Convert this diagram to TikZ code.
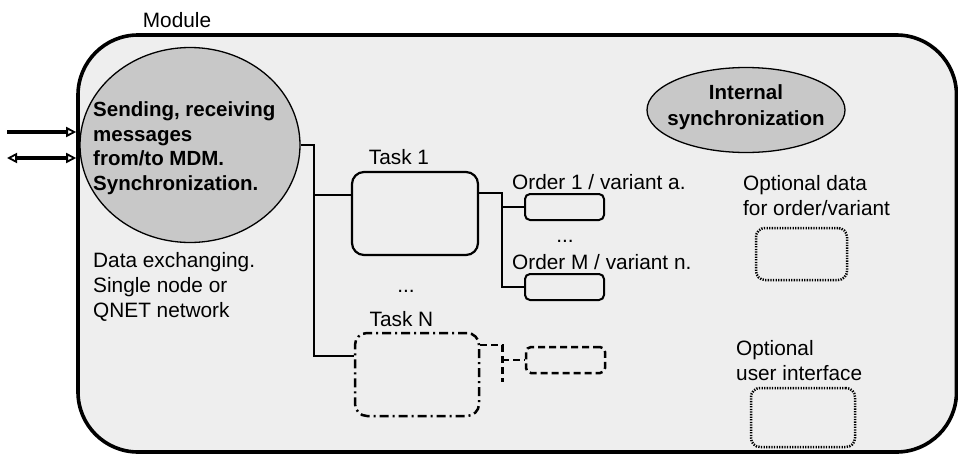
\documentclass[tikz,border=0pt]{standalone}
\usepackage{fontspec}
\setmainfont{Liberation Sans}
\usetikzlibrary{arrows.meta,calc,shapes.geometric}
\definecolor{modfill}{HTML}{EEEEEE}
\definecolor{ellfill}{HTML}{C8C8C8}
\tikzset{
  txt/.style={inner sep=0pt, font=\fontsize{20.8}{25}\selectfont},
  btxt/.style={inner sep=0pt, font=\fontsize{20.5}{24.5}\selectfont\bfseries},
  modbox/.style={draw, line width=3.6pt, fill=modfill, rounded corners=60pt, minimum width=878.5pt, minimum height=417pt, inner sep=0pt},
  ellbox/.style={draw, ellipse, line width=1.3pt, fill=ellfill, inner sep=0pt},
  taskbox/.style={draw, line width=2.2pt, rounded corners=12pt, minimum width=126pt, minimum height=83pt, inner sep=0pt},
  orderbox/.style={draw, line width=2pt, rounded corners=5pt, minimum width=79pt, minimum height=26pt, inner sep=0pt},
  dashdotbox/.style={taskbox, line width=2.5pt, dash pattern=on 9pt off 4pt on 2pt off 4pt},
  dashbox/.style={orderbox, line width=2.5pt, dash pattern=on 7pt off 4pt},
  dotbox/.style={draw, line width=2.5pt, rounded corners=9pt, dash pattern=on 1.3pt off 1.3pt, inner sep=0pt},
  conn/.style={line width=1.8pt},
  dconn/.style={line width=2.5pt, dash pattern=on 7pt off 4pt},
  tip/.style={},
  arr/.style={line width=3.5pt, -{Triangle[open, length=10pt, width=10pt, line width=1.8pt]}},
  darr/.style={line width=3.5pt, {Triangle[open, length=10pt, width=10pt, line width=1.8pt]}-{Triangle[open, length=10pt, width=10pt, line width=1.8pt]}},
}
\begin{document}
\begin{tikzpicture}[x=1pt, y=-1pt]
\useasboundingbox (0,0) rectangle (958,455);
\node[txt] (modlabel) at (177,20) {Module};
\node[modbox] (module) at (517.25,243.5) {};

% big ellipse
\node[ellbox, minimum width=220pt, minimum height=195pt] (sendell) at (190,145) {};
\node[btxt, anchor=west, align=left] (sendtxt) at (93,148) {Sending, receiving\\messages\\from/to MDM.\\Synchronization.};

% internal synchronization
\node[ellbox, minimum width=198pt, minimum height=85pt] (isync) at (746,110) {};
\node[btxt, align=center, font=\fontsize{20.5}{26}\selectfont\bfseries] (isynctxt) at (746,107) {Internal\\synchronization};

% data exchanging text
\node[txt, anchor=west, align=left] (datatxt) at (93,287) {Data exchanging.\\Single node or\\QNET network};

% tasks
\node[taskbox] (task1) at (415,213.5) {};
\node[txt] (task1lbl) at (399,157) {Task 1};
\node[txt, anchor=base] (tdots) at (406,292) {...};
\node[dashdotbox, minimum width=124pt] (taskN) at (417,374.5) {};
\node[txt] (taskNlbl) at (401.5,319) {Task N};

% orders
\node[orderbox] (order1) at (564.5,207) {};
\node[orderbox] (orderM) at (564.5,287) {};
\node[dashbox] (dorder) at (565.5,360) {};
\node[txt, anchor=base west] (o1lbl) at (512,189) {Order 1 / variant a.};
\node[txt, anchor=base] (odots) at (565,242) {...};
\node[txt, anchor=base west] (oMlbl) at (512,269) {Order M / variant n.};

% optional
\node[txt, anchor=west, align=left] (optdata) at (743,196) {Optional data\\for order/variant};
\node[dotbox, minimum width=91pt, minimum height=52pt] (optbox) at (801.5,254) {};
\node[txt, anchor=west, align=left] (optui) at (736,361) {Optional\\user interface};
\node[dotbox, minimum width=104pt, minimum height=59pt] (uibox) at (803,417.5) {};

% connectors
\coordinate (bus) at (314,145);
\coordinate (tNin) at ($(taskN.west)+(0,-18.5)$);
\coordinate (t1in) at ($(task1.west)+(0,-18.5)$);
\draw[conn] (sendell.east) -- (bus) |- (tNin);
\draw[conn] (bus |- t1in) -- (t1in);

\coordinate (t1out) at ($(task1.east)+(0,-20.5)$);
\draw[conn] (t1out) -- ++(23,0) coordinate (ob) |- (orderM.west);
\draw[conn] (ob |- order1.west) -- (order1.west);

\coordinate (tNout) at ($(taskN.east)+(0,-29.5)$);
\draw[dconn] (tNout) -- ++(22,0) coordinate (nb) -- ++(0,37);
\draw[dconn] (nb |- dorder.west) -- (dorder.west);

% external arrows
\coordinate (in1) at (7,132);
\coordinate (in2) at (7,158);
\draw[arr] (in1) -- (in1 -| module.west);
\draw[darr] (in2) -- (in2 -| module.west);
\end{tikzpicture}
\end{document}
